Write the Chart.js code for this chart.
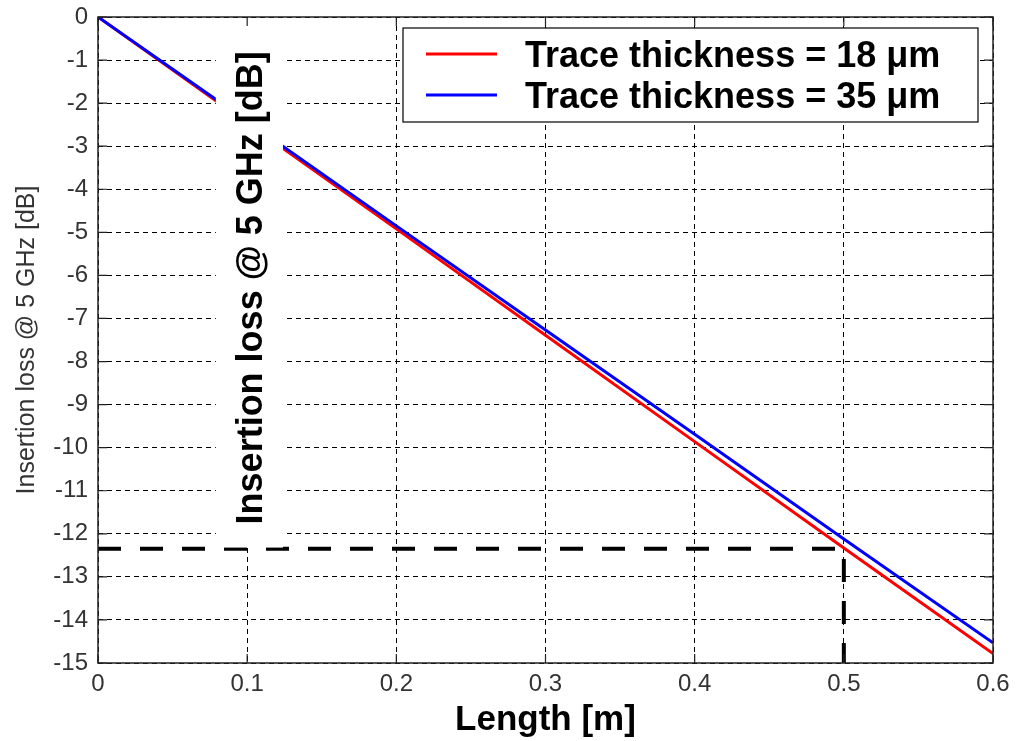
<!DOCTYPE html>
<html>
<head>
<meta charset="utf-8">
<script src="https://cdn.jsdelivr.net/npm/chart.js@4.4.1/dist/chart.umd.min.js"></script>
<style>
  html, body { margin: 0; padding: 0; background: #fff; }
  #wrap { width: 1021px; height: 741px; }
</style>
</head>
<body>
<div id="wrap"><canvas id="lossChart" width="1021" height="741"></canvas></div>
<script>
// --- data ---
const lengths = [0, 0.1, 0.2, 0.3, 0.4, 0.5, 0.6];
const loss18um = [0, -2.46, -4.92, -7.39, -9.86, -12.33, -14.78];
const loss35um = [0, -2.42, -4.85, -7.27, -9.69, -12.12, -14.53];

// dashed marker at L = 0.5 m
const markerLength = 0.5;
const markerLoss = -12.35;
const axisMinLoss = -15;

const xTicks = [0, 0.1, 0.2, 0.3, 0.4, 0.5, 0.6];
const yTicks = [0, -1, -2, -3, -4, -5, -6, -7, -8, -9, -10, -11, -12, -13, -14, -15];

const FONT = "'Liberation Sans', Arial, Helvetica, sans-serif";

// white label patch that hides part of the plot (in data units)
const patch = { x0: 0.079, x1: 0.124, y0: -0.025, y1: -12.32 };
const patchText = 'Insertion loss @ 5 GHz [dB]';

const toXY = (xs, ys) => xs.map((x, i) => ({ x: x, y: ys[i] }));

const overlayPlugin = {
    id: 'overlay',
    afterDatasetsDraw(chart) {
        const { ctx, scales: { x, y } } = chart;
        const left = x.getPixelForValue(patch.x0);
        const right = x.getPixelForValue(patch.x1);
        const top = y.getPixelForValue(patch.y0);
        const bottom = y.getPixelForValue(patch.y1);
        ctx.save();
        ctx.fillStyle = '#fff';
        ctx.fillRect(left, top, right - left, bottom - top);
        ctx.translate(right - 21, (top + bottom) / 2 + 5);
        ctx.rotate(-Math.PI / 2);
        ctx.fillStyle = '#000';
        ctx.font = 'bold 36px ' + FONT;
        ctx.textAlign = 'center';
        ctx.textBaseline = 'alphabetic';
        ctx.fillText(patchText, 0, 0);
        ctx.restore();
    },
    afterDraw(chart) {
        const { ctx, chartArea: a, scales: { x, y } } = chart;
        ctx.save();
        // axes box with inward tick marks
        ctx.strokeStyle = '#222';
        ctx.lineWidth = 1.5;
        ctx.strokeRect(a.left, a.top, a.right - a.left, a.bottom - a.top);
        ctx.lineWidth = 1.2;
        ctx.beginPath();
        xTicks.forEach(v => {
            const px = x.getPixelForValue(v);
            ctx.moveTo(px, a.bottom); ctx.lineTo(px, a.bottom - 9);
            ctx.moveTo(px, a.top); ctx.lineTo(px, a.top + 9);
        });
        yTicks.forEach(v => {
            const py = y.getPixelForValue(v);
            ctx.moveTo(a.left, py); ctx.lineTo(a.left + 9, py);
            ctx.moveTo(a.right, py); ctx.lineTo(a.right - 9, py);
        });
        ctx.stroke();

        // legend box in the upper right corner
        const items = chart.data.datasets.filter(d => !d.hideInLegend);
        const boxW = 575, boxH = 94;
        const bx = a.right - 15 - boxW;
        const by = a.top + 11;
        ctx.fillStyle = '#fff';
        ctx.fillRect(bx, by, boxW, boxH);
        ctx.strokeStyle = '#000';
        ctx.lineWidth = 1.2;
        ctx.strokeRect(bx, by, boxW, boxH);
        items.forEach((d, i) => {
            const ly = by + 26 + i * 41;
            ctx.strokeStyle = d.borderColor;
            ctx.lineWidth = 3;
            ctx.beginPath();
            ctx.moveTo(bx + 23, ly);
            ctx.lineTo(bx + 94, ly);
            ctx.stroke();
            ctx.fillStyle = '#000';
            ctx.font = 'bold 36px ' + FONT;
            ctx.textAlign = 'left';
            ctx.textBaseline = 'alphabetic';
            ctx.fillText(d.label, bx + 122, ly + 13);
        });
        ctx.restore();
    }
};

new Chart(document.getElementById('lossChart'), {
    type: 'line',
    data: {
        datasets: [
            {
                label: 'Trace thickness = 18 \u03bcm',
                data: toXY(lengths, loss18um),
                borderColor: '#ff0000',
                borderWidth: 3,
                pointRadius: 0,
                tension: 0,
                order: 2
            },
            {
                label: 'Trace thickness = 35 \u03bcm',
                data: toXY(lengths, loss35um),
                borderColor: '#0000ff',
                borderWidth: 3,
                pointRadius: 0,
                tension: 0,
                order: 1
            },
            {
                label: 'marker',
                hideInLegend: true,
                data: [
                    { x: 0, y: markerLoss },
                    { x: markerLength, y: markerLoss },
                    { x: markerLength, y: axisMinLoss }
                ],
                borderColor: '#000',
                borderWidth: 4,
                borderDash: [23, 19],
                pointRadius: 0,
                tension: 0,
                order: 0
            }
        ]
    },
    options: {
        responsive: false,
        animation: false,
        layout: { padding: { left: 0, top: 17, right: 28, bottom: 0 } },
        plugins: { legend: { display: false }, tooltip: { enabled: false } },
        scales: {
            x: {
                type: 'linear',
                min: 0,
                max: 0.6,
                afterBuildTicks: s => { s.ticks = xTicks.map(v => ({ value: v })); },
                afterFit: s => { s.height = 78; s.paddingLeft = 0; s.paddingRight = 0; },
                grid: { color: '#000', lineWidth: 1, drawTicks: false },
                border: { display: false, dash: [5, 4] },
                ticks: {
                    padding: 7,
                    color: '#333',
                    maxRotation: 0,
                    autoSkip: false,
                    font: { family: FONT, size: 24 },
                    callback: v => (v === 0 ? '0' : v.toFixed(1))
                },
                title: {
                    display: true,
                    text: 'Length [m]',
                    color: '#000',
                    padding: 0,
                    font: { family: FONT, size: 35, weight: 'bold' }
                }
            },
            y: {
                type: 'linear',
                min: -15,
                max: 0,
                afterBuildTicks: s => { s.ticks = yTicks.map(v => ({ value: v })); },
                afterFit: s => { s.width = 98; s.paddingTop = 0; s.paddingBottom = 0; },
                grid: { color: '#000', lineWidth: 1, drawTicks: false },
                border: { display: false, dash: [5, 4] },
                ticks: {
                    padding: 10,
                    color: '#333',
                    autoSkip: false,
                    font: { family: FONT, size: 24 },
                    callback: v => String(v)
                },
                title: {
                    display: true,
                    text: 'Insertion loss @ 5 GHz [dB]',
                    color: '#333',
                    padding: { top: 12, bottom: 0 },
                    font: { family: FONT, size: 25 }
                }
            }
        }
    },
    plugins: [overlayPlugin]
});
</script>
</body>
</html>
